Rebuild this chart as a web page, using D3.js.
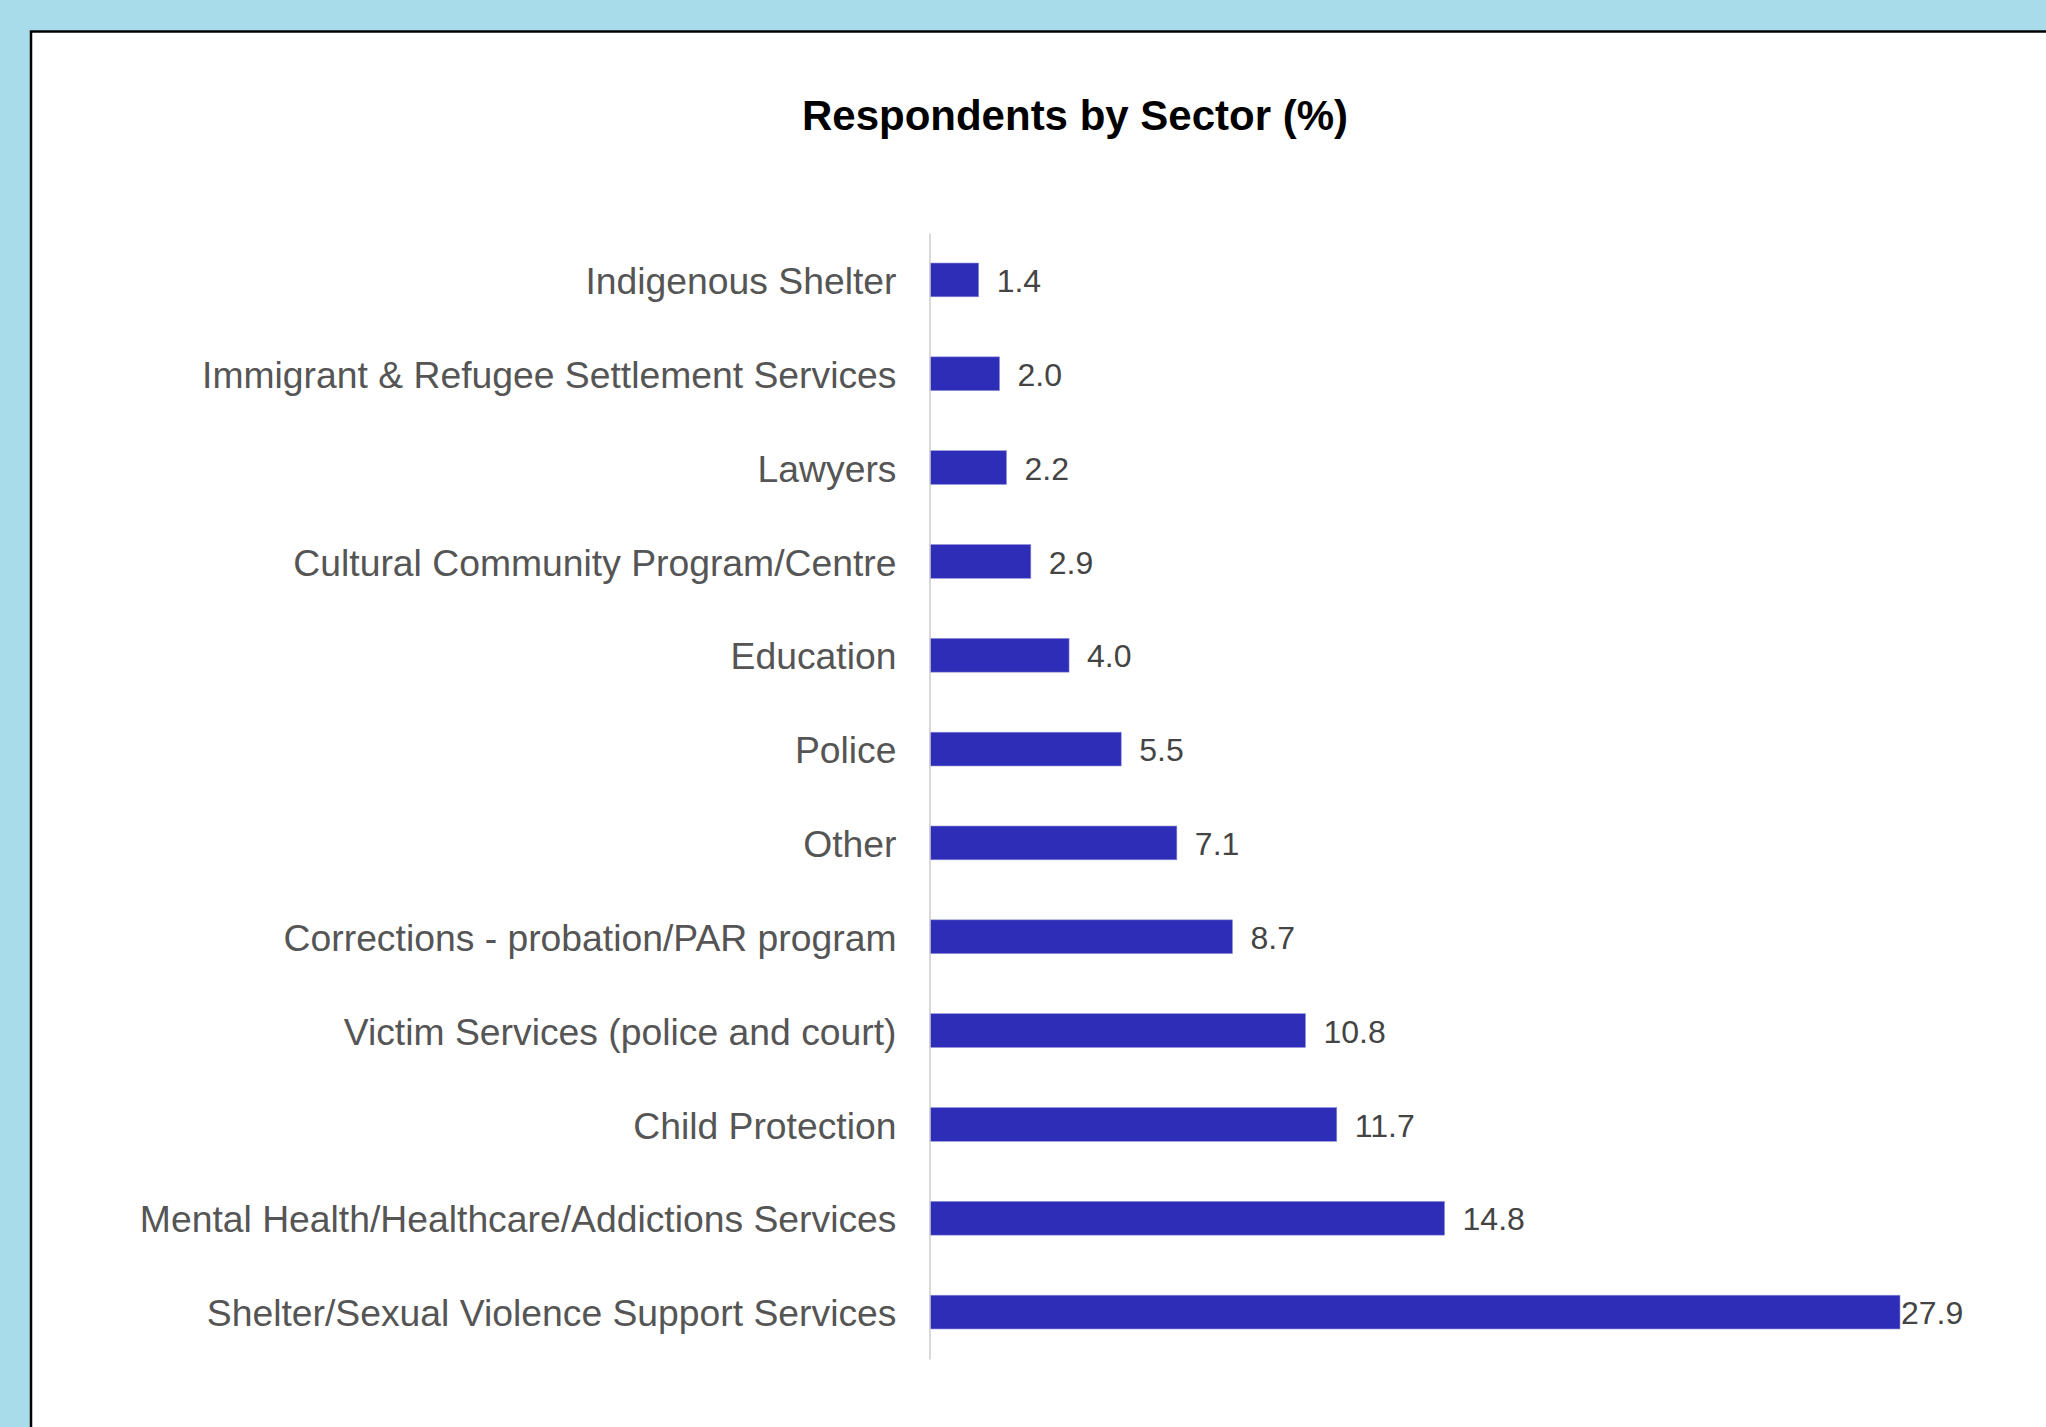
<!DOCTYPE html>
<html>
<head>
<meta charset="utf-8">
<script src="https://cdn.jsdelivr.net/npm/d3@7"></script>
<style>
  html, body { margin: 0; padding: 0; background: #a9dcea; overflow: hidden; }
  svg { display: block; }
</style>
</head>
<body>
<svg id="chart" width="2046" height="1427"></svg>
<script>
const title = "Respondents by Sector (%)";
const categories = [
  "Indigenous Shelter",
  "Immigrant & Refugee Settlement Services",
  "Lawyers",
  "Cultural Community Program/Centre",
  "Education",
  "Police",
  "Other",
  "Corrections - probation/PAR program",
  "Victim Services (police and court)",
  "Child Protection",
  "Mental Health/Healthcare/Addictions Services",
  "Shelter/Sexual Violence Support Services"
];
const values = [1.4, 2.0, 2.2, 2.9, 4.0, 5.5, 7.1, 8.7, 10.8, 11.7, 14.8, 27.9];

const svg = d3.select("#chart");
const W = 2046, H = 1427;

svg.append("rect").attr("x", 0).attr("y", 0).attr("width", W).attr("height", H).attr("fill", "#a9dcea");
svg.append("rect").attr("x", 31).attr("y", 31.5).attr("width", W).attr("height", H)
  .attr("fill", "#ffffff").attr("stroke", "#000").attr("stroke-width", 2.5);

svg.append("text")
  .attr("x", 1075).attr("y", 129.5)
  .attr("text-anchor", "middle")
  .attr("font-family", "'Liberation Sans', Arial, sans-serif")
  .attr("font-weight", "bold")
  .attr("font-size", 42)
  .attr("fill", "#000")
  .text(title);

const x0 = 930;
const x = d3.scaleLinear().domain([0, d3.max(values)]).range([x0, 1900]);
const y = d3.scaleBand().domain(categories).range([233, 1359]).paddingInner(0.64).paddingOuter(0.32);

const g = svg.append("g");

g.selectAll("rect.bar").data(values).join("rect")
  .attr("class", "bar")
  .attr("x", x(0))
  .attr("y", (d, i) => y(categories[i]))
  .attr("width", d => x(d) - x(0))
  .attr("height", y.bandwidth())
  .attr("fill", "#2e2db8")
  .attr("stroke", "#8f8fd8")
  .attr("stroke-width", 0.6);

// axis line
const yAxis = d3.axisLeft(y).tickSize(0).tickPadding(33);
const ax = g.append("g").attr("transform", `translate(${x0 - 0.5},0)`).call(yAxis);
ax.select(".domain").attr("stroke", "#cccccc").attr("stroke-width", 1.5);
ax.selectAll("text")
  .attr("font-family", "'Liberation Sans', Arial, sans-serif")
  .attr("font-size", 37.3)
  .attr("fill", "#555555")
  .attr("dy", "0.38em");

const xmax = x(d3.max(values));
g.selectAll("text.val").data(values).join("text")
  .attr("class", "val")
  .attr("x", d => Math.min(x(d) + 18, xmax + 1))
  .attr("y", (d, i) => y(categories[i]) + y.bandwidth() / 2)
  .attr("dy", "0.38em")
  .attr("font-family", "'Liberation Sans', Arial, sans-serif")
  .attr("font-size", 32)
  .attr("fill", "#444444")
  .text(d => d.toFixed(1));
</script>
</body>
</html>
